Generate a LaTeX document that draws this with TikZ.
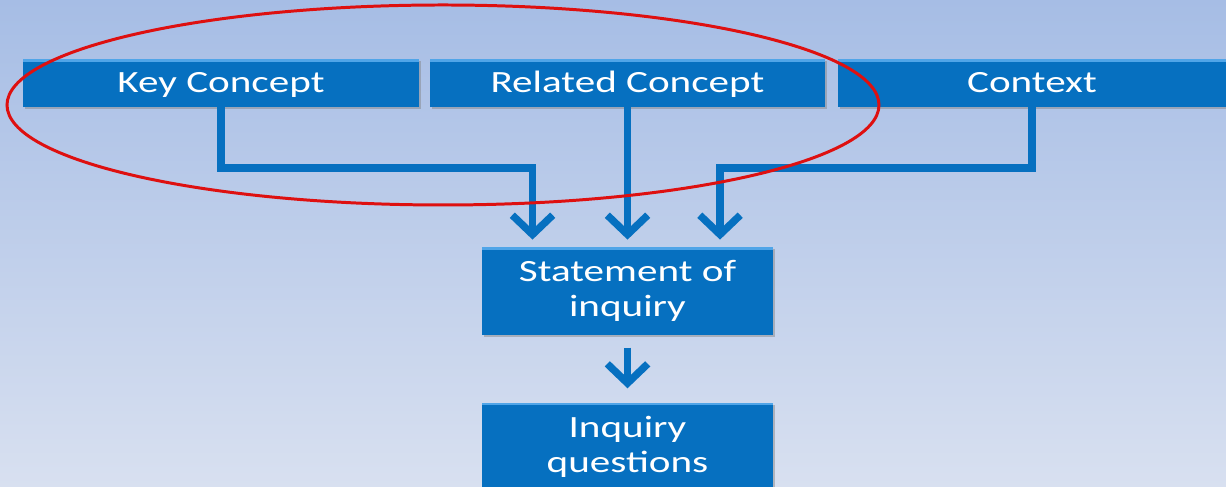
\documentclass[tikz,border=0pt]{standalone}
\usepackage{fontspec}
\newfontfamily\boxfont[FakeStretch=1.33]{Carlito}
\usetikzlibrary{arrows.meta,positioning,shadows}

\definecolor{bgtop}{RGB}{166,189,229}
\definecolor{bgbottom}{RGB}{216,224,240}
\definecolor{boxblue}{RGB}{6,112,192}
\definecolor{boxlight}{RGB}{80,165,232}
\definecolor{ringred}{RGB}{222,16,16}

\tikzset{
	conceptbox/.style={fill=boxblue, text=white, align=center, inner sep=0pt,
		font=\boxfont\fontsize{17.6}{20}\selectfont,
		drop shadow={shadow xshift=1pt, shadow yshift=-1.2pt, opacity=0.45},
		path picture={\fill[boxlight] (path picture bounding box.north west)
			rectangle ([yshift=-1.5pt]path picture bounding box.north east);}},
	topbox/.style={conceptbox, minimum height=0.96cm, text height=0.5cm, text depth=0.1cm},
	flow/.style={draw=boxblue, line width=4.2pt, shorten >=4pt,
		-{Straight Barb[length=11pt,width=23pt]}},
}

\begin{document}
\begin{tikzpicture}
	% Background
	\clip (0,0) rectangle (24.52,9.74);
	\shade[top color=bgtop, bottom color=bgbottom] (0,0) rectangle (24.52,9.74);

	% Top row
	\node[topbox, minimum width=7.92cm] (key) at (4.42,8.08) {Key Concept};
	\node[topbox, minimum width=7.90cm] (related) at (12.55,8.08) {Related Concept};
	\node[topbox, minimum width=7.76cm] (context) at (20.64,8.08) {Context};

	% Middle and bottom boxes
	\node[conceptbox, minimum width=5.82cm, minimum height=1.76cm] (stmt) at (12.55,3.92) {Statement of\\inquiry};
	\node[conceptbox, minimum width=5.82cm, minimum height=1.76cm, below=1.34cm of stmt] (inq) {Inquiry\\questions};

	% Where the arrows come in
	\coordinate (bus) at (0,6.38);
	\coordinate (inA) at ([xshift=-1.9cm]stmt.north);
	\coordinate (inC) at ([xshift=1.85cm]stmt.north);

	% Arrows
	\draw[flow] (key.south) |- (bus -| inA) -- (inA);
	\draw[flow] (related.south) -- (stmt.north);
	\draw[flow] (context.south) |- (bus -| inC) -- (inC);
	\draw[flow, shorten <=7pt, shorten >=8pt] (stmt.south) -- (inq.north);

	% Red ring
	\draw[ringred, line width=1.7pt] (8.86,7.64) ellipse [x radius=8.72, y radius=2.0];
\end{tikzpicture}
\end{document}
